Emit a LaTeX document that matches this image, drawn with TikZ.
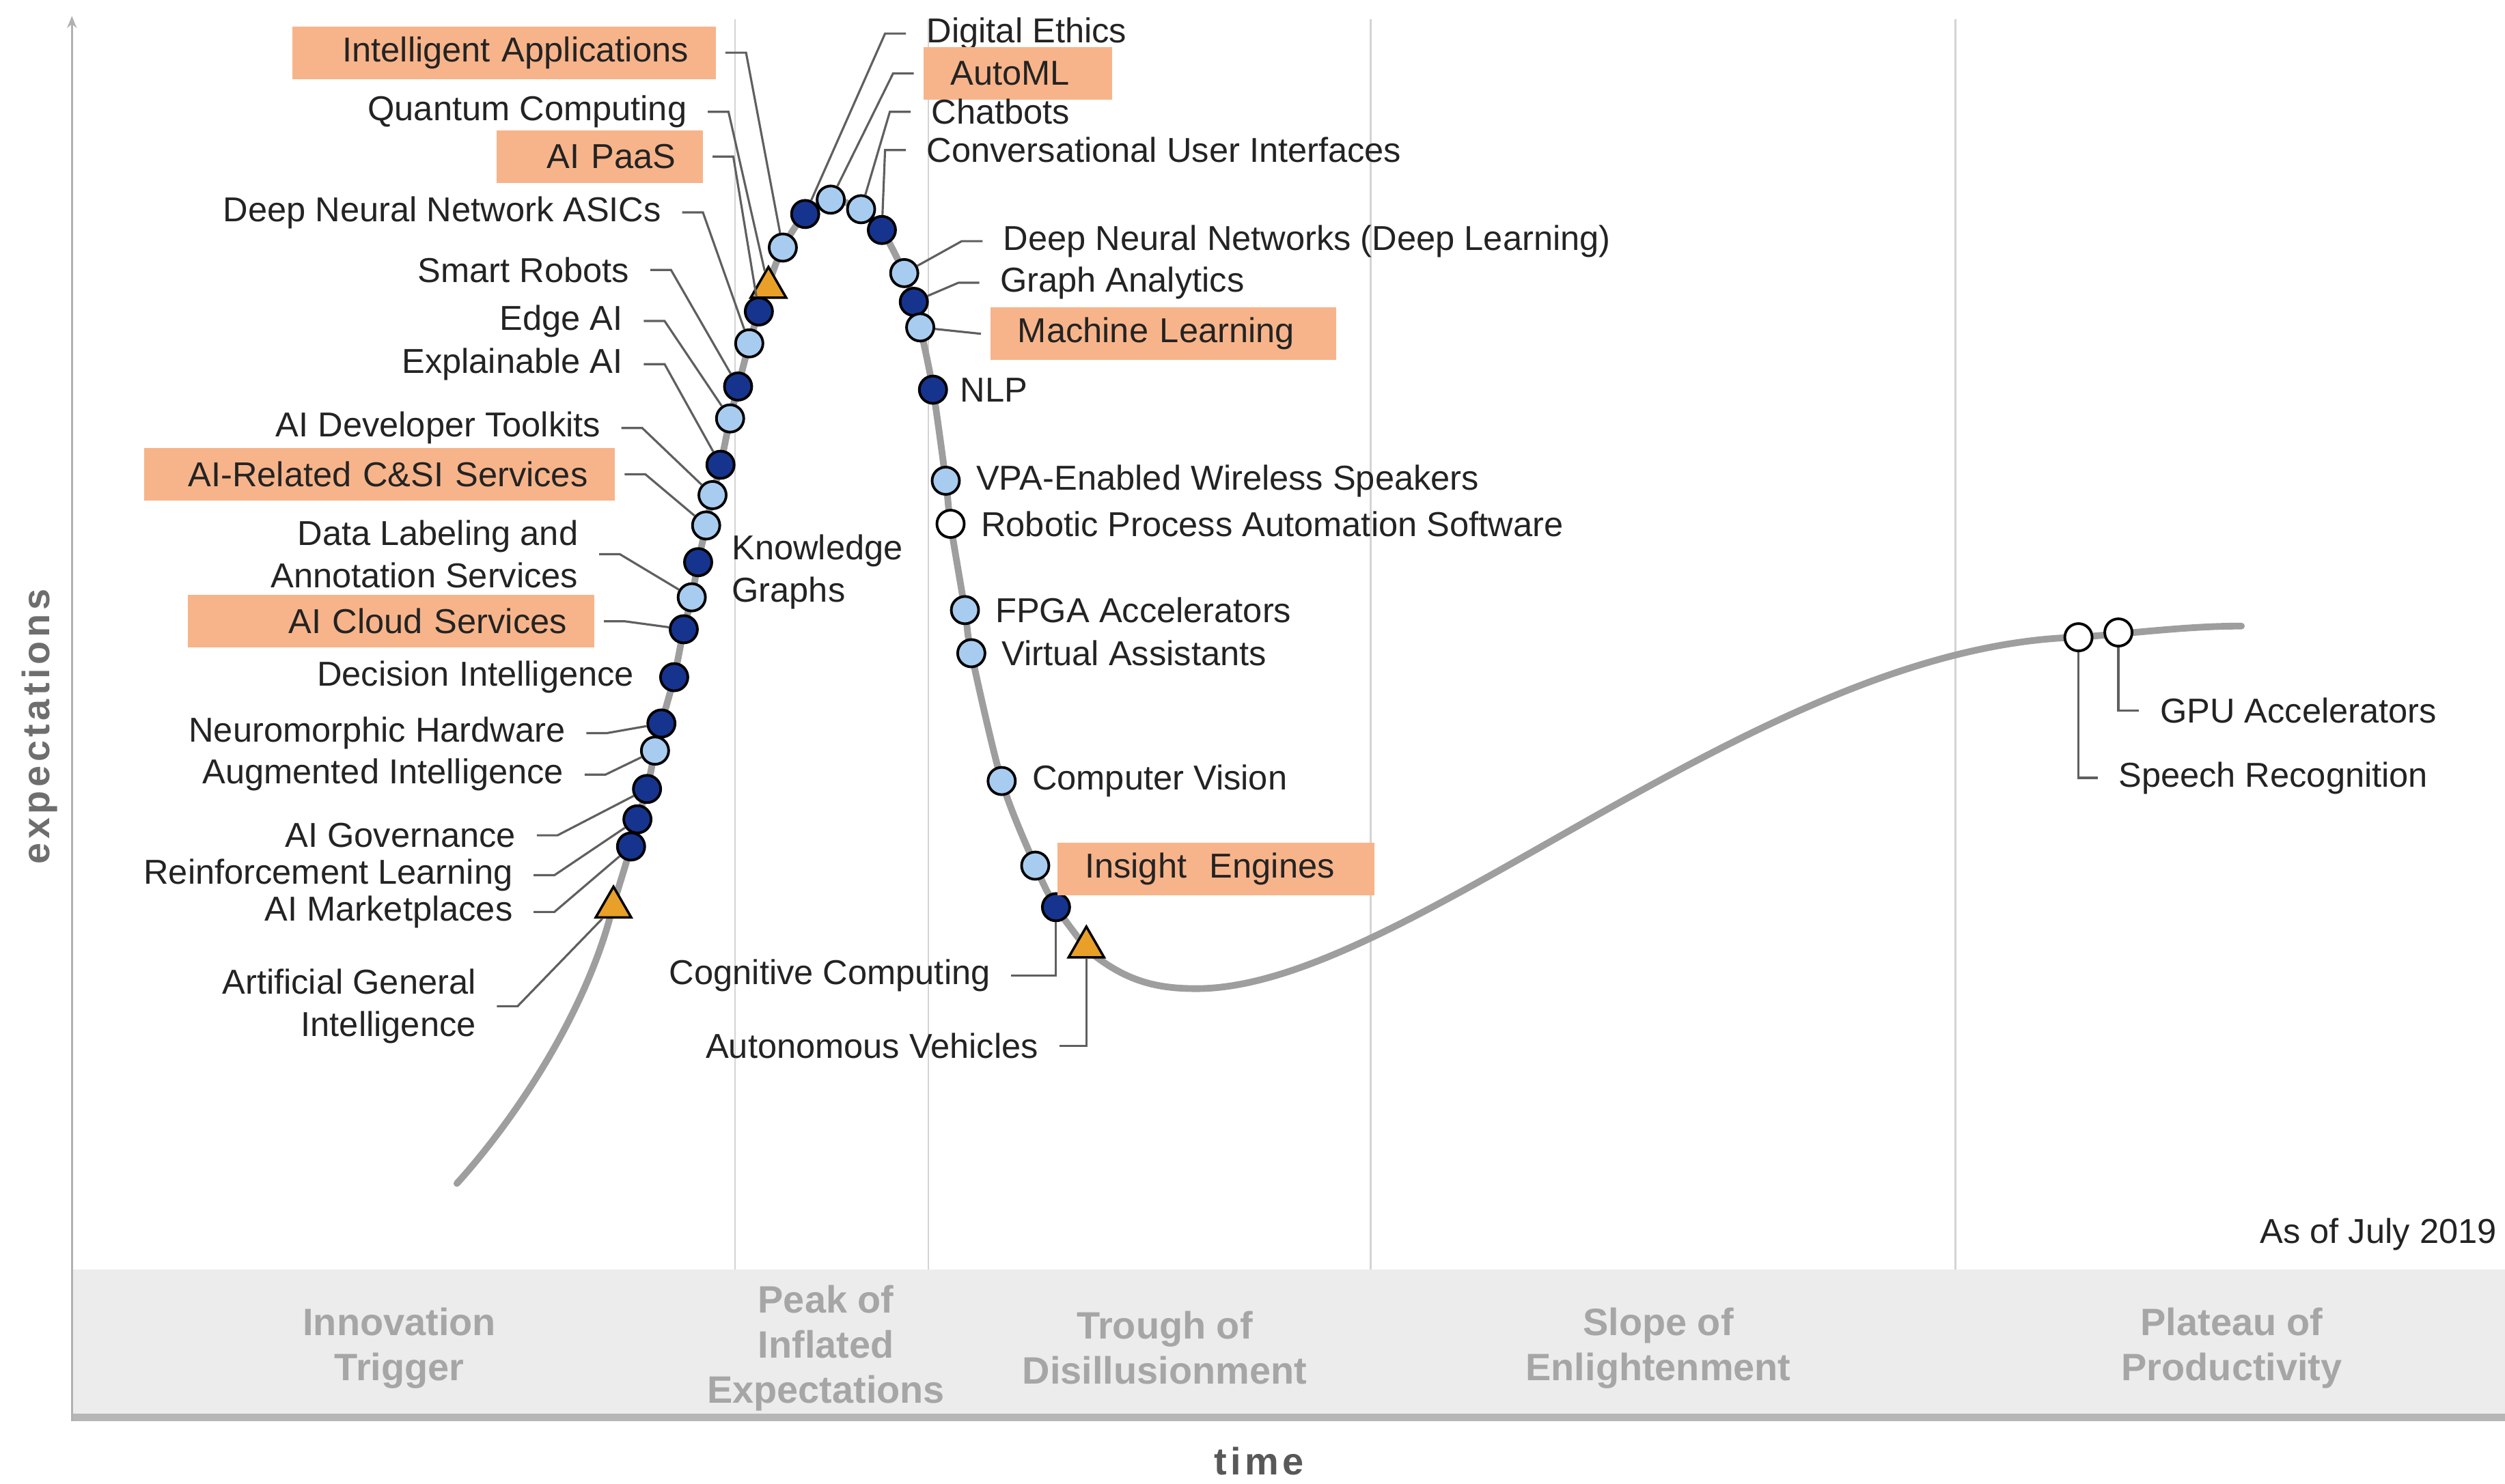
\documentclass[tikz,border=0pt]{standalone}
\usepackage{fontspec}
\setmainfont{Liberation Sans}
\newfontfamily\axisfont[LetterSpace=10]{Liberation Sans}
\usepackage{tikz}
\usetikzlibrary{shapes.geometric,arrows.meta}

\definecolor{curvegray}{RGB}{158,158,158}
\definecolor{phasegray}{RGB}{212,212,212}
\definecolor{bandgray}{RGB}{236,236,236}
\definecolor{bandedge}{RGB}{182,182,182}
\definecolor{bandtext}{RGB}{166,166,166}
\definecolor{axisgray}{RGB}{110,110,110}
\definecolor{darkdot}{RGB}{22,52,142}
\definecolor{lightdot}{RGB}{168,204,240}
\definecolor{hilite}{RGB}{247,180,138}
\definecolor{trifill}{RGB}{233,160,40}
\definecolor{leadgray}{RGB}{95,95,95}
\definecolor{inkgray}{RGB}{35,35,35}

\newcommand\leadL[2]{\draw[leader] (#1.east) -- ++(13,0) -- (#2);}
\newcommand\leadR[2]{\draw[leader] (#1.west) -- ++(-13,0) -- (#2);}

\begin{document}
\begin{tikzpicture}[x=0.02339cm, y=-0.02339cm,
  hype/.style={curvegray, line width=2.8pt, line cap=round},
  dot/.style={circle, draw=black, line width=1.1pt, minimum size=0.4cm, inner sep=0pt},
  dotdk/.style={dot, fill=darkdot},
  dotlt/.style={dot, fill=lightdot},
  dotwt/.style={dot, fill=white},
  trimark/.style={regular polygon, regular polygon sides=3, draw=black, line width=1pt,
    fill=trifill, minimum size=0.6cm, inner sep=0pt},
  tag/.style={font=\fontsize{14.4}{17.5}\selectfont, text=inkgray, inner xsep=0.3cm, inner ysep=0.08cm},
  tagbox/.style={tag, fill=hilite, inner xsep=0.4cm, outer xsep=0.14cm, minimum height=0.77cm},
  leader/.style={draw=leadgray, line width=0.9pt},
  phasetxt/.style={font=\bfseries\fontsize{15.9}{18.8}\selectfont, text=bandtext, align=center}]
\useasboundingbox (0,0) rectangle (1568,929);

\fill[bandgray] (45,795) rectangle (1568,889);
\fill[bandedge] (45,885) rectangle (1568,890);
\foreach \px in {460,581,858,1224}
  \draw[phasegray, line width=0.7pt] (\px,12) -- (\px,795);
\draw[curvegray!80, line width=0.8pt, -{Stealth[length=5pt,width=4pt]}] (45,890) -- (45,10);

\node[phasetxt] (trig) at (250,844) {Innovation\\Trigger};
\node[phasetxt] (peak) at (517,844) {Peak of\\Inflated\\Expectations};
\node[phasetxt] (trough) at (729,844) {Trough of\\Disillusionment};
\node[phasetxt] (slope) at (1038,844) {Slope of\\Enlightenment};
\node[phasetxt] (plat) at (1397,844) {Plateau of\\Productivity};
\node[font=\axisfont\bfseries\fontsize{15.9}{18}\selectfont, text=axisgray, rotate=90] (ylab) at (25,455) {expectations};
\node[font=\axisfont\bfseries\fontsize{15.9}{18}\selectfont, text=axisgray!80!black] (xlab) at (788,915) {time};
\node[tag, anchor=east, inner xsep=0pt] (asof) at (1563,773) {As of July 2019};

\draw[hype] (286,741) .. controls (330,692) and (370,625) .. (384,566);
\draw[hype] plot[smooth, tension=0.5] coordinates {
  (384,566) (395,530) (399,513) (405,494) (410,470) (414,453) (422,424) (428,394)
  (433,374) (437,352) (442,329) (446,310) (451,291) (457,262) (462,242) (469,215)
  (475,195) (481,178) (490,155) (504,134) (520,125) (539,131) (552,144) (566,171)
  (572,189) (576,205) (584,244) (592,301) (595,328) (604,382) (608,409) (627,489)
  (648,542) (661,568) (681,595)};
\draw[hype] (681,595) .. controls (705,615) and (725,619) .. (749,619)
  .. controls (880,619) and (1100,404) .. (1301,399)
  .. controls (1340,396) and (1370,392) .. (1403,392);

\node[trimark] (agi) at (384,568) {};
\node[dotdk] (aim) at (395,530) {};
\node[dotdk] (rl) at (399,513) {};
\node[dotdk] (gov) at (405,494) {};
\node[dotlt] (aug) at (410,470) {};
\node[dotdk] (neu) at (414,453) {};
\node[dotdk] (dec) at (422,424) {};
\node[dotdk] (cloud) at (428,394) {};
\node[dotlt] (datalab) at (433,374) {};
\node[dotdk] (kg) at (437,352) {};
\node[dotlt] (csi) at (442,329) {};
\node[dotlt] (tool) at (446,310) {};
\node[dotdk] (xai) at (451,291) {};
\node[dotlt] (edge) at (457,262) {};
\node[dotdk] (robot) at (462,242) {};
\node[dotlt] (asic) at (469,215) {};
\node[dotdk] (paas) at (475,195) {};
\node[trimark] (qc) at (481,180) {};
\node[dotlt] (intapp) at (490,155) {};
\node[dotdk] (ethics) at (504,134) {};
\node[dotlt] (automl) at (520,125) {};
\node[dotlt] (chat) at (539,131) {};
\node[dotdk] (cui) at (552,144) {};
\node[dotlt] (dnn) at (566,171) {};
\node[dotdk] (graph) at (572,189) {};
\node[dotlt] (ml) at (576,205) {};
\node[dotdk] (nlp) at (584,244) {};
\node[dotlt] (vpa) at (592,301) {};
\node[dotwt] (rpa) at (595,328) {};
\node[dotlt] (fpga) at (604,382) {};
\node[dotlt] (va) at (608,409) {};
\node[dotlt] (cv) at (627,489) {};
\node[dotlt] (insight) at (648,542) {};
\node[dotdk] (cog) at (661,568) {};
\node[trimark] (av) at (680,593) {};
\node[dotwt] (speech) at (1301,399) {};
\node[dotwt] (gpu) at (1326,396) {};

\node[tagbox, text width=5.40cm, align=right, anchor=east] (intapp-t) at (454,33) {Intelligent Applications};
\node[tag, anchor=east] (qc-t) at (443,70) {Quantum Computing};
\node[tagbox, text width=2.22cm, align=right, anchor=east] (paas-t) at (446,98) {AI PaaS};
\node[tag, anchor=east] (asic-t) at (427,133) {Deep Neural Network ASICs};
\node[tag, anchor=east] (robot-t) at (407,169) {Smart Robots};
\node[tag, anchor=east] (edge-t) at (403,201) {Edge AI};
\node[tag, anchor=east] (xai-t) at (403,228) {Explainable AI};
\node[tag, anchor=east] (tool-t) at (389,268) {AI Developer Toolkits};
\node[tagbox, text width=6.10cm, align=right, anchor=east] (csi-t) at (391,297) {AI-Related C\&SI Services};
\node[tag, anchor=east, align=right] (datalab-t) at (375,347) {Data Labeling and\\Annotation Services};
\node[tagbox, text width=5.15cm, align=right, anchor=east] (cloud-t) at (378,389) {AI Cloud Services};
\node[tag, anchor=east] (dec-t) at (410,424) {Decision Intelligence};
\node[tag, anchor=east] (neu-t) at (367,459) {Neuromorphic Hardware};
\node[tag, anchor=east] (aug-t) at (366,485) {Augmented Intelligence};
\node[tag, anchor=east] (gov-t) at (336,523) {AI Governance};
\node[tag, anchor=east] (rl-t) at (334,548) {Reinforcement Learning};
\node[tag, anchor=east] (aim-t) at (334,571) {AI Marketplaces};
\node[tag, anchor=east, align=right] (agi-t) at (311,630) {Artificial General\\Intelligence};
\node[tag, anchor=west, align=left] (kg-t) at (445,358) {Knowledge\\Graphs};

\node[tag, anchor=west] (ethics-t) at (567,21) {Digital Ethics};
\node[tagbox, text width=1.96cm, align=left, anchor=west] (automl-t) at (572,46) {AutoML};
\node[tag, anchor=west] (chat-t) at (570,70) {Chatbots};
\node[tag, anchor=west] (cui-t) at (567,94) {Conversational User Interfaces};
\node[tag, anchor=west] (dnn-t) at (615,151) {Deep Neural Networks (Deep Learning)};
\node[tag, anchor=west] (graph-t) at (613,177) {Graph Analytics};
\node[tagbox, text width=4.26cm, align=left, anchor=west] (ml-t) at (614,209) {Machine Learning};
\node[tag, anchor=west] (nlp-t) at (588,244) {NLP};
\node[tag, anchor=west] (vpa-t) at (598,301) {VPA-Enabled Wireless Speakers};
\node[tag, anchor=west] (rpa-t) at (601,328) {Robotic Process Automation Software};
\node[tag, anchor=west] (fpga-t) at (610,382) {FPGA Accelerators};
\node[tag, anchor=west] (va-t) at (614,409) {Virtual Assistants};
\node[tag, anchor=west] (cv-t) at (633,489) {Computer Vision};
\node[tagbox, text width=3.84cm, align=left, anchor=west] (insight-t) at (656,544) {Insight\ \ Engines};
\node[tag, anchor=east] (cog-t) at (633,611) {Cognitive Computing};
\node[tag, anchor=east] (av-t) at (663,655) {Autonomous Vehicles};
\node[tag, anchor=west] (gpu-t) at (1339,445) {GPU Accelerators};
\node[tag, anchor=west] (speech-t) at (1313,487) {Speech Recognition};

\leadL{intapp-t}{intapp}
\leadL{qc-t}{qc}
\leadL{paas-t}{paas}
\leadL{asic-t}{asic}
\leadL{robot-t}{robot}
\leadL{edge-t}{edge}
\leadL{xai-t}{xai}
\leadL{tool-t}{tool}
\leadL{csi-t}{csi}
\leadL{datalab-t}{datalab}
\leadL{cloud-t}{cloud}
\leadL{neu-t}{neu}
\leadL{aug-t}{aug}
\leadL{gov-t}{gov}
\leadL{rl-t}{rl}
\leadL{aim-t}{aim}
\leadL{agi-t}{agi}
\leadR{ethics-t}{ethics}
\leadR{automl-t}{automl}
\leadR{chat-t}{chat}
\leadR{cui-t}{cui}
\leadR{dnn-t}{dnn}
\leadR{graph-t}{graph}
\draw[leader] (ml-t.west) -- (ml);
\draw[leader] (cog-t.east) -| (cog);
\draw[leader] (av-t.east) -| (av);
\draw[leader] (gpu) |- (gpu-t.west);
\draw[leader] (speech) |- (speech-t.west);
\end{tikzpicture}
\end{document}
